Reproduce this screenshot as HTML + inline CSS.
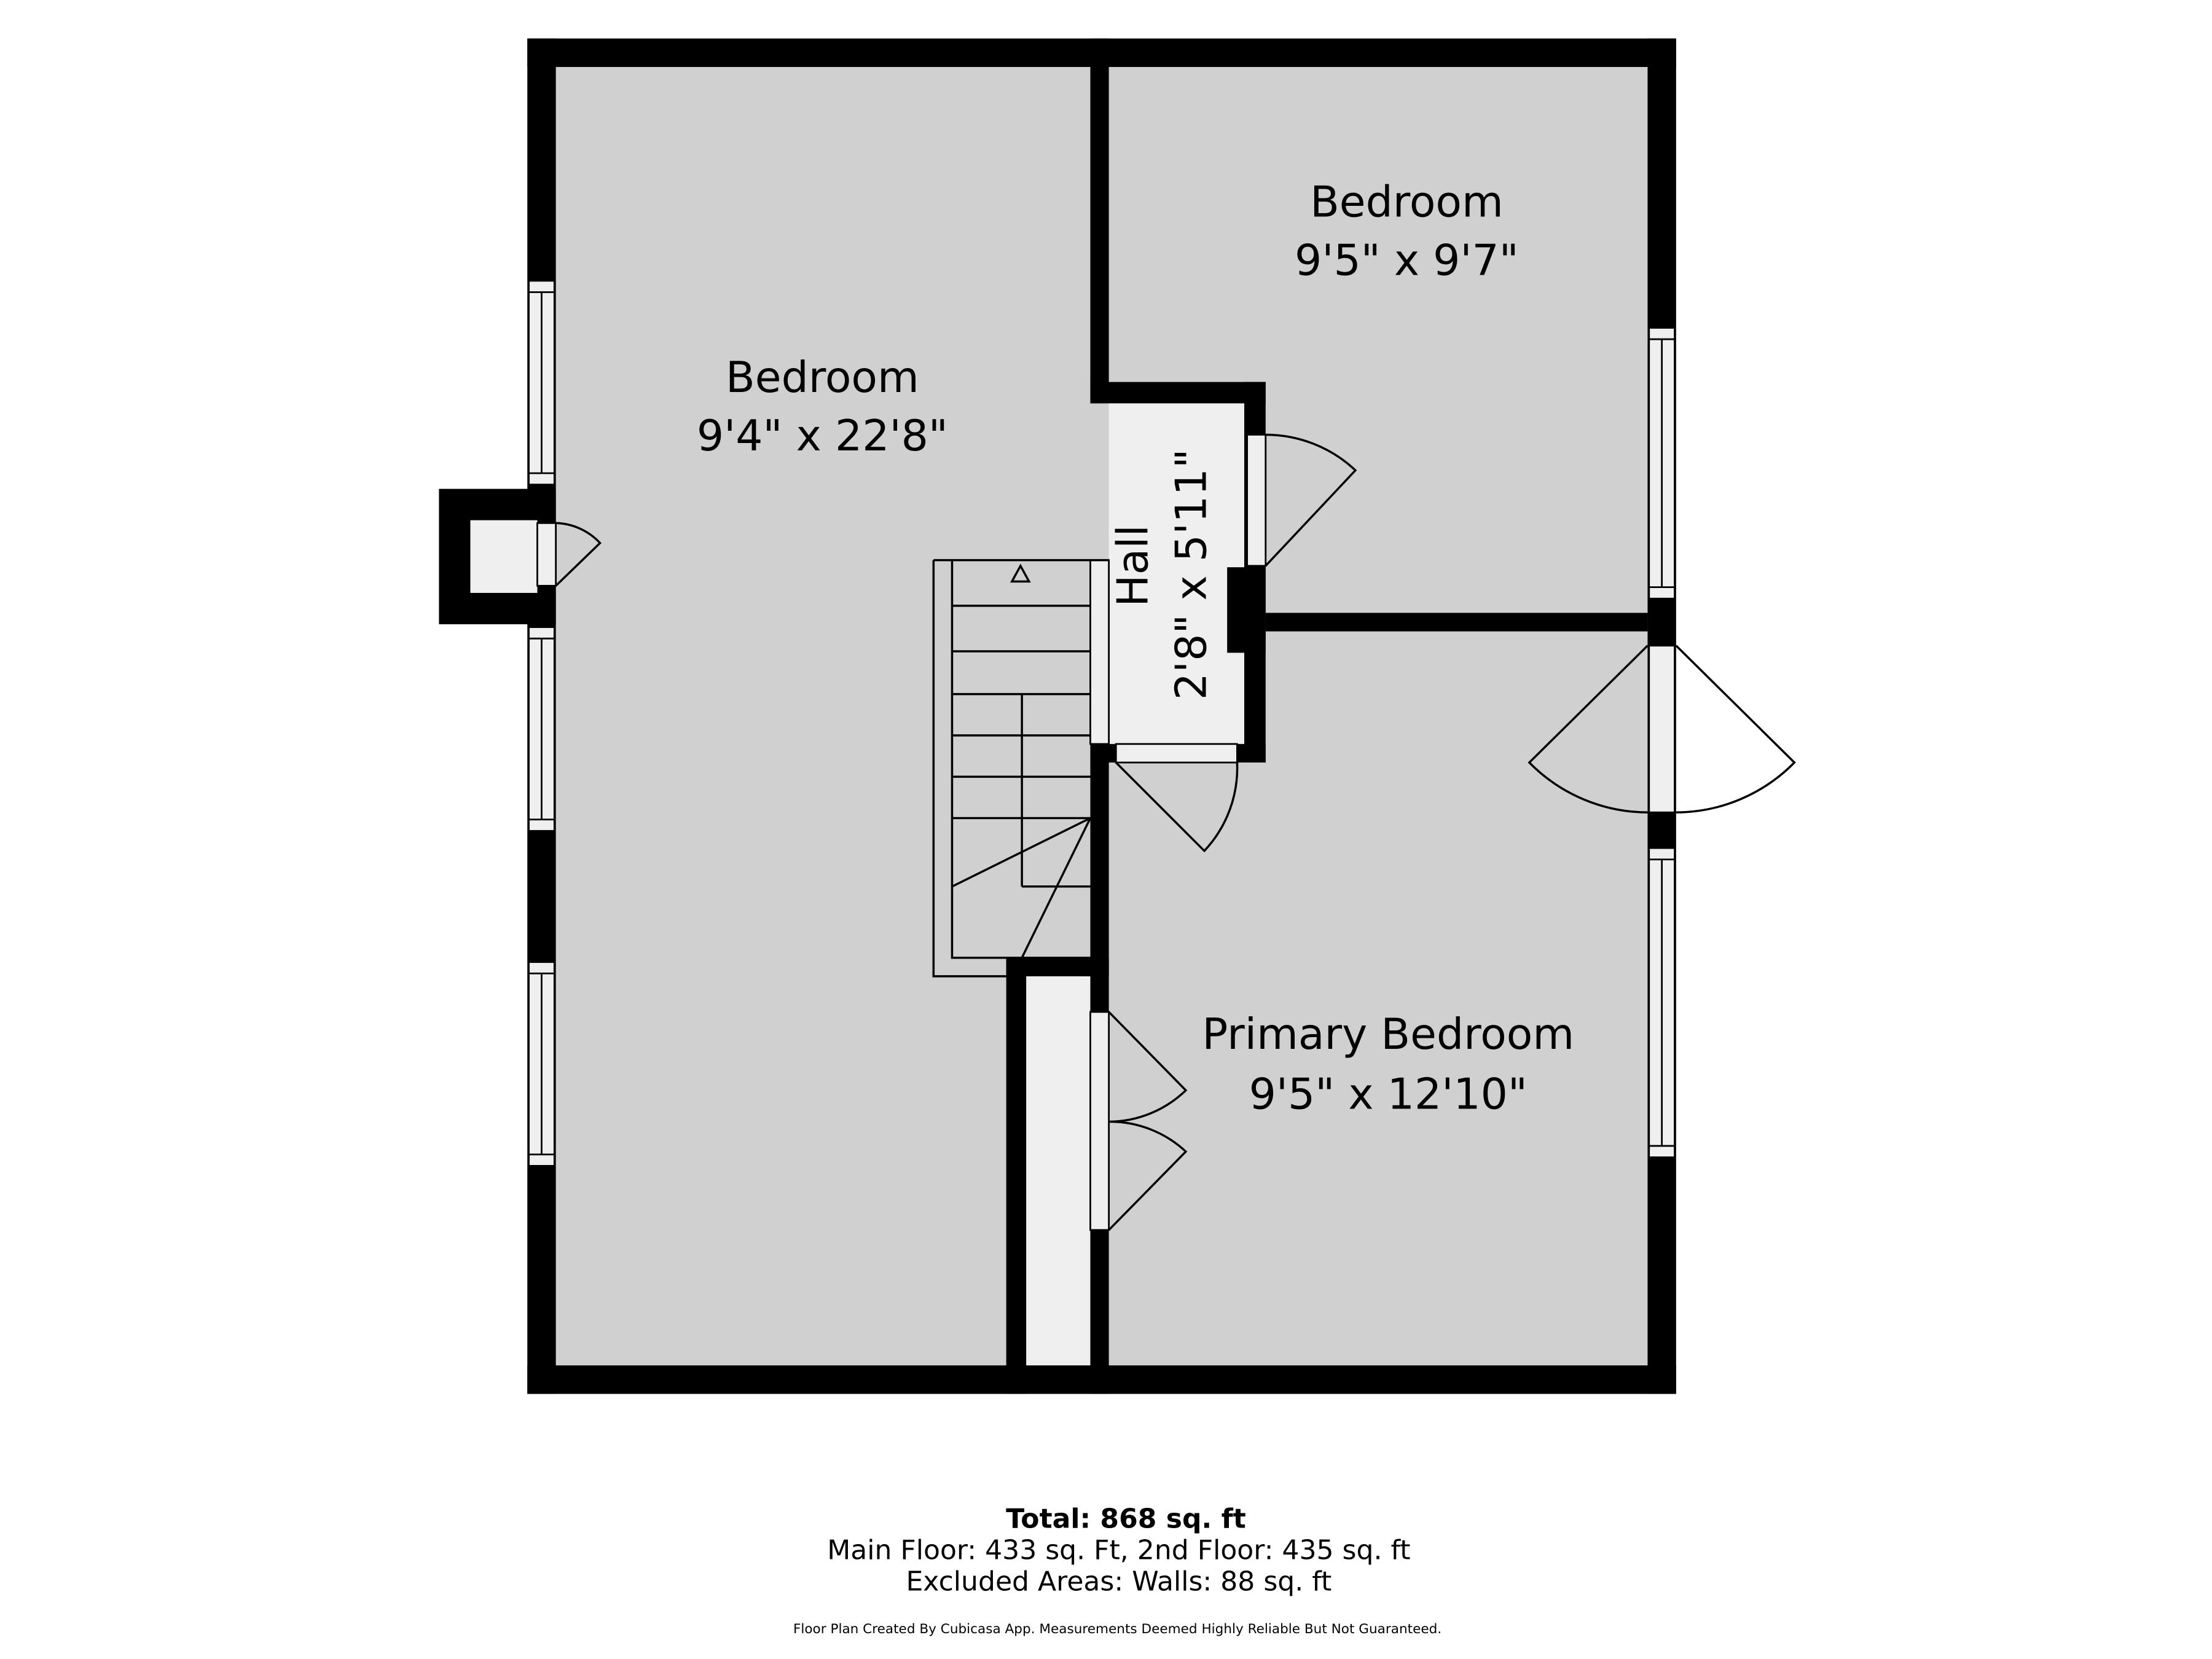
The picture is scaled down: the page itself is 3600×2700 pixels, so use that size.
<!DOCTYPE html>
<html><head><meta charset="utf-8"><style>html,body{margin:0;padding:0;background:#fff}svg{display:block}</style></head>
<body>
<svg width="3600" height="2700" viewBox="0 0 1552 1164" xmlns="http://www.w3.org/2000/svg" font-family="'DejaVu Sans','Liberation Sans',sans-serif">
<rect width="1552" height="1164" fill="#fff"/>
<rect x="380" y="37" width="786" height="931" fill="#d0d0d0"/>
<rect x="778" y="283" width="95" height="239" fill="#efefef"/>
<rect x="720" y="685" width="45" height="273" fill="#efefef"/>
<rect x="370" y="27" width="806" height="20" fill="#000"/>
<rect x="370" y="958" width="806" height="20" fill="#000"/>
<rect x="370" y="27" width="20" height="951" fill="#000"/>
<rect x="1156" y="27" width="20" height="951" fill="#000"/>
<rect x="308" y="343" width="82" height="95" fill="#000"/>
<rect x="330" y="365" width="47" height="51" fill="#efefef"/>
<rect x="765" y="27" width="13" height="256" fill="#000"/>
<rect x="765" y="268" width="123" height="15" fill="#000"/>
<rect x="873" y="268" width="15" height="267" fill="#000"/>
<rect x="861" y="398" width="27" height="60" fill="#000"/>
<rect x="888" y="430" width="268" height="13" fill="#000"/>
<rect x="765" y="522" width="123" height="13" fill="#000"/>
<rect x="765" y="522" width="13" height="456" fill="#000"/>
<rect x="706" y="672" width="72" height="13" fill="#000"/>
<rect x="706" y="672" width="14" height="306" fill="#000"/>
<g fill="#efefef" stroke="#000" stroke-width="1.2">
<rect x="371" y="197" width="18" height="143"/><line x1="380" y1="205" x2="380" y2="332"/><line x1="371" y1="205" x2="389" y2="205"/><line x1="371" y1="332" x2="389" y2="332"/>
<rect x="371" y="440" width="18" height="143"/><line x1="380" y1="448" x2="380" y2="575"/><line x1="371" y1="448" x2="389" y2="448"/><line x1="371" y1="575" x2="389" y2="575"/>
<rect x="371" y="675" width="18" height="143"/><line x1="380" y1="683" x2="380" y2="810"/><line x1="371" y1="683" x2="389" y2="683"/><line x1="371" y1="810" x2="389" y2="810"/>
<rect x="1157" y="230" width="18" height="190"/><line x1="1166" y1="238" x2="1166" y2="412"/><line x1="1157" y1="238" x2="1175" y2="238"/><line x1="1157" y1="412" x2="1175" y2="412"/>
<rect x="1157" y="595" width="18" height="217"/><line x1="1166" y1="603" x2="1166" y2="804"/><line x1="1157" y1="603" x2="1175" y2="603"/><line x1="1157" y1="804" x2="1175" y2="804"/>
<rect x="1157" y="453" width="18" height="117"/>
<rect x="377" y="367" width="13" height="44"/>
<rect x="875" y="305" width="13" height="92"/>
<rect x="783" y="522" width="85" height="13"/>
<rect x="765" y="710" width="13" height="153"/>
<rect x="765" y="393" width="13" height="129"/>
</g>
<g fill="none" stroke="#000" stroke-width="1.5">
<path d="M1156 453 L1073 535 A117 117 0 0 0 1156 570"/>
<path d="M1176 453 L1259 535 A117 117 0 0 1 1176 570"/>
<path d="M390 411 L421 381 A44 44 0 0 0 390 367"/>
<path d="M888 397 L951 330 A92 92 0 0 0 888 305"/>
<path d="M783 535 L845 597 A85 85 0 0 0 868 535"/>
<path d="M778 710 L832 765 A78 78 0 0 1 778 787 A78 78 0 0 1 832 808 L778 863"/>
<path d="M655 393 L778 393 M655 393 L655 685 L706 685"/>
<path d="M668 393 L668 672 L765 672"/>
<path d="M668 425 H765 M668 457 H765 M668 487 H765 M668 516 H765 M668 545 H765 M668 574 H765 M717 622 H765"/>
<path d="M717 487 V622"/>
<path d="M765 574 L668 622 M765 574 L717 672"/>
<path d="M710 408 L716 397 L722 408 Z"/>
</g>
<g fill="#000" font-size="30" text-anchor="middle">
<text x="577" y="275">Bedroom</text>
<text x="577" y="316">9'4" x 22'8"</text>
<text x="987" y="152">Bedroom</text>
<text x="987" y="193">9'5" x 9'7"</text>
<text x="974" y="736">Primary Bedroom</text>
<text x="974" y="778">9'5" x 12'10"</text>
<text transform="translate(805,397) rotate(-90)">Hall</text>
<text transform="translate(846,403) rotate(-90)">2'8" x 5'11"</text>
</g>
<g fill="#000" text-anchor="middle">
<text x="790" y="1072" font-size="19" font-weight="bold">Total: 868 sq. ft</text>
<text x="785" y="1094" font-size="19">Main Floor: 433 sq. Ft, 2nd Floor: 435 sq. ft</text>
<text x="785" y="1116" font-size="19">Excluded Areas: Walls: 88 sq. ft</text>
<text x="784" y="1146" font-size="9.3">Floor Plan Created By Cubicasa App. Measurements Deemed Highly Reliable But Not Guaranteed.</text>
</g>
</svg>
</body></html>
